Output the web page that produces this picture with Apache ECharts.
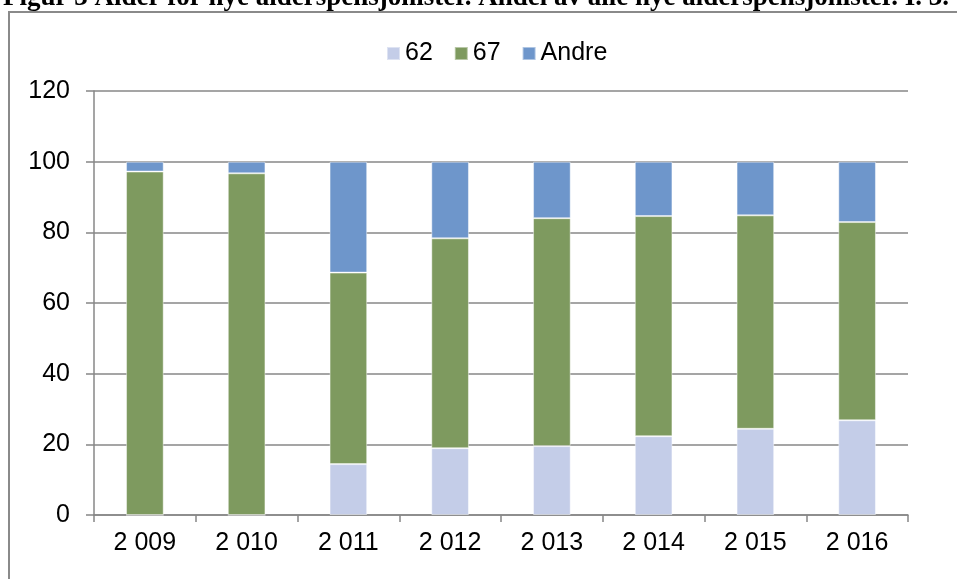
<!DOCTYPE html>
<html>
<head>
<meta charset="utf-8">
<script src="https://cdn.jsdelivr.net/npm/echarts@6/dist/echarts.min.js"></script>
<style>
html, body { margin: 0; padding: 0; background: #fff; }
#chart { width: 957px; height: 579px; }
</style>
</head>
<body>
<div id="chart"></div>
<script>
var years = ['2 009', '2 010', '2 011', '2 012', '2 013', '2 014', '2 015', '2 016'];
var age62 = [0, 0, 14.4, 18.9, 19.5, 22.3, 24.4, 26.8];
var age67 = [97.2, 96.7, 54.2, 59.4, 64.5, 62.3, 60.4, 56.1];
var andre = [2.8, 3.3, 31.4, 21.7, 16.0, 15.4, 15.2, 17.1];
var yTicks = [0, 20, 40, 60, 80, 100, 120];

var colors = {
	c62: '#C4CDE8',
	c67: '#7E9A5F',
	andre: '#6E96CB',
	grid: '#878787'
};

var chart = echarts.init(document.getElementById('chart'));

function barSeries(name, data, color) {
	return {
		name: name,
		type: 'bar',
		stack: 'alle',
		barWidth: '37%',
		data: data,
		itemStyle: {
			color: color,
			borderColor: 'rgba(255,255,255,0.45)',
			borderWidth: 1
		}
	};
}

chart.setOption({
	animation: false,
	textStyle: { fontFamily: 'Liberation Sans, Arial, sans-serif' },
	graphic: [{
		type: 'rect',
		shape: { x: 9, y: 12, width: 980, height: 600 },
		style: { fill: 'none', stroke: '#8a8a8a', lineWidth: 2 },
		z: -1
	}, {
		type: 'text',
		x: 3,
		y: 12,
		style: {
			text: 'Figur 3 Alder for nye alderspensjonister. Andel av alle nye alderspensjonister. I. 3.',
			font: 'bold 27px "Liberation Serif", "Times New Roman", serif',
			fill: '#000',
			textAlign: 'left',
			textVerticalAlign: 'bottom'
		}
	}],
	legend: {
		top: 36,
		left: 381,
		itemWidth: 13,
		itemHeight: 13,
		itemGap: 21,
		icon: 'rect',
		textStyle: { fontSize: 25, color: '#000' },
		data: ['62', '67', 'Andre']
	},
	grid: {
		left: 94,
		right: 49,
		top: 91,
		bottom: 64
	},
	xAxis: {
		type: 'category',
		data: years,
		axisLine: { lineStyle: { color: colors.grid, width: 1.5 } },
		axisTick: { show: true, length: 7, lineStyle: { color: colors.grid, width: 1.5 } },
		axisLabel: { fontSize: 25, color: '#000', margin: 16 }
	},
	yAxis: {
		type: 'value',
		min: yTicks[0],
		max: yTicks[yTicks.length - 1],
		interval: 20,
		axisLine: { show: true, lineStyle: { color: colors.grid, width: 1.5 } },
		axisTick: { show: true, length: 8, lineStyle: { color: colors.grid, width: 1.5 } },
		axisLabel: { fontSize: 25, color: '#000', margin: 24 },
		splitLine: { lineStyle: { color: colors.grid, width: 1.5 } }
	},
	series: [
		barSeries('62', age62, colors.c62),
		barSeries('67', age67, colors.c67),
		barSeries('Andre', andre, colors.andre)
	]
});
</script>
</body>
</html>
